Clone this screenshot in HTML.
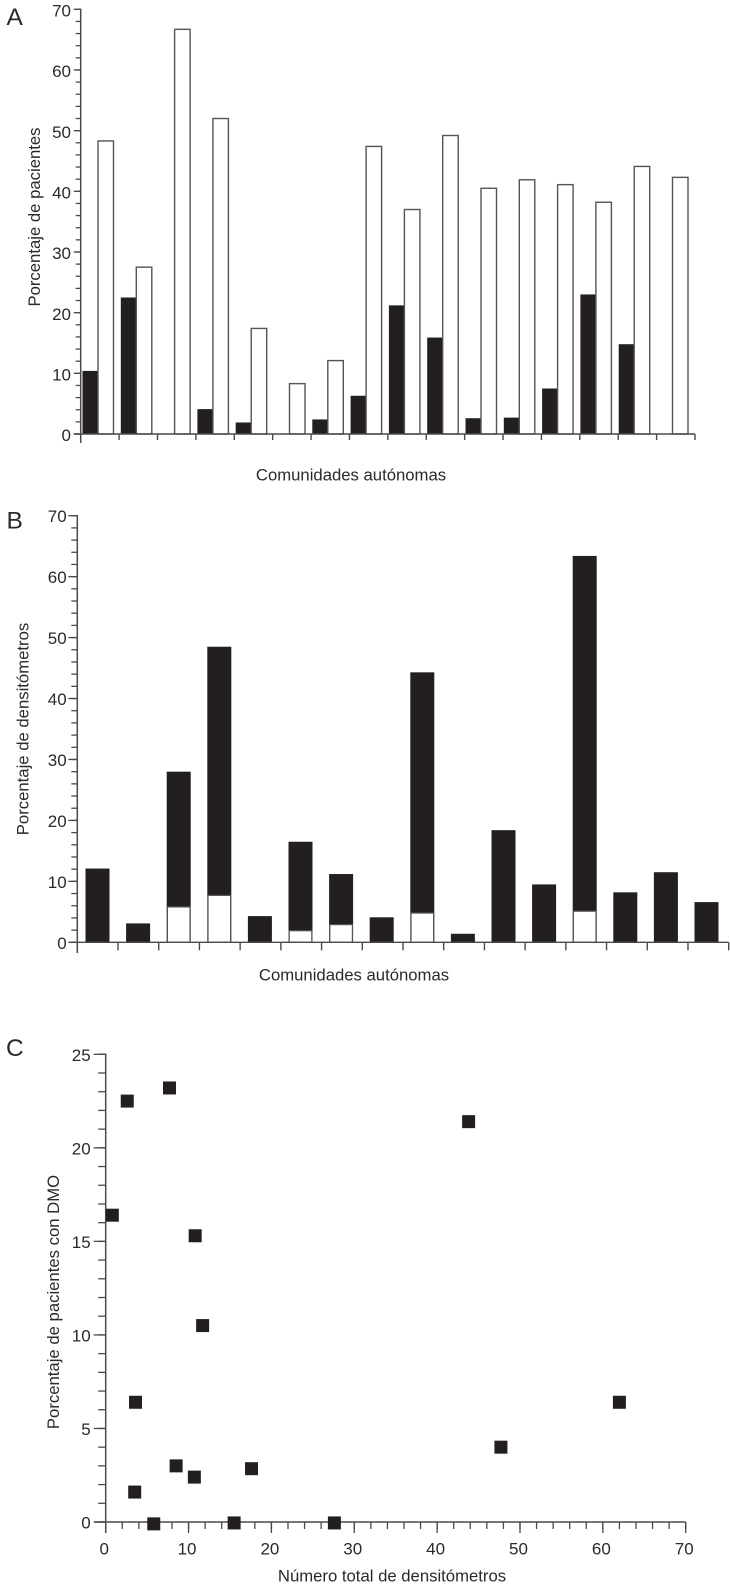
<!DOCTYPE html>
<html lang="es">
<head>
<meta charset="utf-8">
<title>Densitómetros por comunidades autónomas</title>
<style>
html,body{margin:0;padding:0;background:#fff;}
svg{display:block;font-family:"Liberation Sans",sans-serif;fill:#2b2a2a;}
</style>
</head>
<body>
<svg id="figure" xmlns="http://www.w3.org/2000/svg" width="730" height="1586" viewBox="0 0 730 1586">
<rect width="730" height="1586" fill="#fff"/>
<text x="6.5" y="25" font-size="24.5">A</text>
<text x="6.5" y="528.5" font-size="24.5">B</text>
<text x="6" y="1056" font-size="24.5">C</text>
<text transform="translate(40,217) rotate(-90)" text-anchor="middle" font-size="16.7">Porcentaje de pacientes</text>
<text x="351" y="480.5" text-anchor="middle" font-size="16.7">Comunidades autónomas</text>
<text transform="translate(28.5,729) rotate(-90)" text-anchor="middle" font-size="16.7">Porcentaje de densitómetros</text>
<text x="354" y="980.5" text-anchor="middle" font-size="16.7">Comunidades autónomas</text>
<text transform="translate(59,1302) rotate(-90)" text-anchor="middle" font-size="16.7">Porcentaje de pacientes con DMO</text>
<text x="392" y="1581.5" text-anchor="middle" font-size="16.7">Número total de densitómetros</text>
<g id="chart-a"></g>
<g id="chart-b"></g>
<g id="chart-c"></g>
</svg>
<script>
const regionSlots = [0,1,2,3,4,5,6,7,8,9,10,11,12,13,14,15];
const chartABlack = [10.4,22.5,0,4.1,1.9,0,2.4,6.3,21.2,15.9,2.6,2.7,7.5,23,14.8,0];
const chartAWhite = [48.3,27.5,66.7,52,17.4,8.3,12.1,47.4,37,49.2,40.5,41.9,41.1,38.2,44.1,42.3];
const chartBTotal = [12.1,3.1,28,48.5,4.3,16.5,11.2,4.1,44.3,1.4,18.4,9.5,63.4,8.2,11.5,6.6];
const chartBWhite = [0,0,5.8,7.7,0,1.9,2.9,0,4.8,0,0,0,5.1,0,0,0];
const percentTicks = [0,10,20,30,40,50,60,70];
const chartCYTicks = [0,5,10,15,20,25];
const chartCXTicks = [0,10,20,30,40,50,60,70];
const chartCDensitometers = [0.8,2.6,7.7,10.8,11.7,3.6,8.5,10.7,17.6,3.5,5.8,15.5,27.6,43.8,47.7,62];
const chartCPatients = [16.4,22.5,23.2,15.3,10.5,6.4,3,2.4,2.85,1.6,-0.1,-0.05,-0.05,21.4,4,6.4];

const NS = 'http://www.w3.org/2000/svg';
const BLACK = '#231f20';
const AXIS = '#4a4a4a';

const yA = v => 434 - v * 424.7 / 70;
const xA = i => 82.5 + 38.3 * i;
const yB = v => 942.3 - v * 426.6 / 70;
const xB = i => 85.5 + 40.6 * i;
const yC = v => 1522 - v * 467.7 / 25;
const xC = v => 105.7 + v * 580 / 70;

function shape(parent, tag, attrs) {
  const el = document.createElementNS(NS, tag);
  Object.keys(attrs).forEach(k => el.setAttribute(k, attrs[k]));
  parent.appendChild(el);
  return el;
}
function seg(parent, x1, y1, x2, y2, w) {
  return shape(parent, 'line', {x1, y1, x2, y2, stroke: AXIS, 'stroke-width': w});
}
function yAxis(parent, name, xPos, y, ticks, minorStep, maxV, bottom, majorLen, minorLen, labelGap, labelDrop) {
  const g = shape(parent, 'g', {});
  
  
  seg(g, xPos, y(maxV) - 0.7, xPos, bottom, 1.5);
  for (let v = 0; v <= maxV + 0.001; v += minorStep) {
    seg(g, xPos - minorLen, y(v), xPos, y(v), 1.3);
  }
  ticks.forEach(t => {
    seg(g, xPos - majorLen, y(t), xPos, y(t), 1.3);
    const label = shape(g, 'text', {x: xPos - labelGap, y: y(t) + labelDrop, 'text-anchor': 'end', 'font-size': 17});
    label.textContent = t;
    
    
  });
}
function slotAxis(parent, name, x0, x1, y0, count, len) {
  const g = shape(parent, 'g', {});
  
  
  seg(g, x0 - 7, y0, x1, y0, 1.4);
  for (let i = 1; i <= count; i++) {
    const tx = x0 + (x1 - x0) * i / count;
    seg(g, tx, y0, tx, y0 + len, 1.4);
  }
}

/* Chart A */
const a = document.getElementById('chart-a');
regionSlots.forEach(i => {
  if (chartABlack[i] > 0) {
    const b = shape(a, 'rect', {x: xA(i), y: yA(chartABlack[i]), width: 15.5, height: yA(0) - yA(chartABlack[i]), fill: BLACK});
    
    
  }
  const w = shape(a, 'rect', {x: xA(i) + 15.5, y: yA(chartAWhite[i]), width: 15.5, height: yA(0) - yA(chartAWhite[i]), fill: '#fff', stroke: '#555', 'stroke-width': 1.4});
  
  
});
yAxis(a, 'chart-a-y-axis', 80.7, yA, percentTicks, 2, 70, 443, 7, 5, 9.7, 7.2);
slotAxis(a, 'chart-a-x-axis', 80.7, 695, 434, 16, 6);

/* Chart B */
const b = document.getElementById('chart-b');
regionSlots.forEach(i => {
  const t = shape(b, 'rect', {x: xB(i), y: yB(chartBTotal[i]), width: 24, height: yB(0) - yB(chartBTotal[i]), fill: BLACK});
  
  
  if (chartBWhite[i] > 0) {
    const w = shape(b, 'rect', {x: xB(i) + 0.7, y: yB(chartBWhite[i]), width: 22.6, height: yB(0) - yB(chartBWhite[i]), fill: '#fff', stroke: '#555', 'stroke-width': 1.2});
    
    
  }
});
yAxis(b, 'chart-b-y-axis', 77.3, yB, percentTicks, 2, 70, 953, 9, 6, 10.6, 6.5);
slotAxis(b, 'chart-b-x-axis', 77.3, 728.7, 942.3, 16, 8);

/* Chart C */
const c = document.getElementById('chart-c');
yAxis(c, 'chart-c-y-axis', 105.7, yC, chartCYTicks, 1, 25, 1533, 12, 7.5, 15, 6.5);
const xg = shape(c, 'g', {});


seg(xg, 94, yC(0), xC(70), yC(0), 1.4);
for (let v = 2; v <= 70; v += 2) {
  seg(xg, xC(v), yC(0), xC(v), yC(0) + 7, 1.3);
}
chartCXTicks.forEach(t => {
  seg(xg, xC(t), yC(0), xC(t), yC(0) + 11, 1.3);
  const label = shape(xg, 'text', {x: xC(t) - 1.5, y: 1554.5, 'text-anchor': 'middle', 'font-size': 17});
  label.textContent = t;
  
  
});
chartCDensitometers.forEach((d, i) => {
  const p = shape(c, 'rect', {x: xC(d) - 6.5, y: yC(chartCPatients[i]) - 6.5, width: 13, height: 13, fill: BLACK});
  
  
});
</script>
</body>
</html>
